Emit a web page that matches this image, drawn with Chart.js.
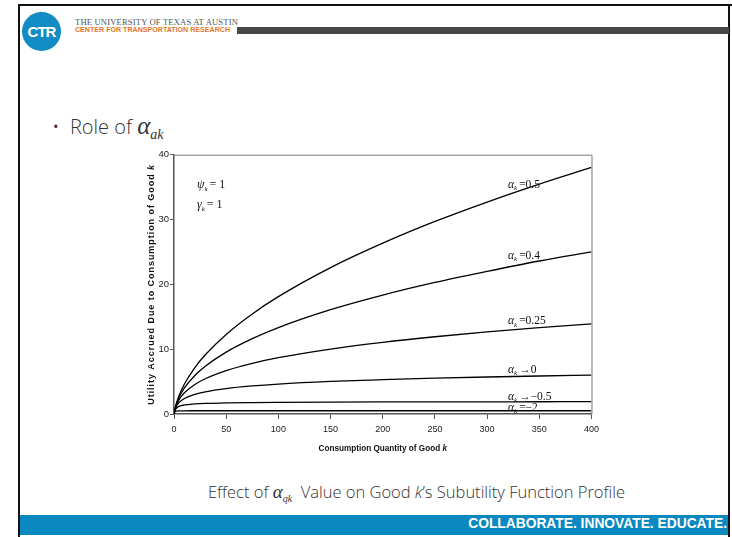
<!DOCTYPE html>
<html>
<head>
<meta charset="utf-8">
<script src="https://cdn.jsdelivr.net/npm/chart.js@4.4.1/dist/chart.umd.min.js"></script>
<style>
  html, body { margin: 0; padding: 0; background: #fff; }
  #slide { position: relative; width: 732px; height: 537px; overflow: hidden; background: #fff; font-family: "Open Sans", "Noto Sans", sans-serif; }
  .frameTop { position: absolute; left: 18px; top: 4px; width: 714px; height: 2px; background: #111; }
  .frameLeft { position: absolute; left: 18px; top: 4px; width: 2px; height: 533px; background: #111; }
  .frameRight { position: absolute; left: 728px; top: 4px; width: 2px; height: 533px; background: #111; }
  .logo { position: absolute; left: 22px; top: 12px; width: 39px; height: 39px; border-radius: 50%; background: #138bc3; color: #fff; font: bold 15px "Liberation Sans", Arial, sans-serif; line-height: 39px; text-align: center; letter-spacing: -1px; }
  .uni { position: absolute; left: 75px; top: 17px; font: 8.6px "Liberation Serif", "Times New Roman", serif; color: #555; white-space: nowrap; letter-spacing: 0.15px; }
  .ctr { position: absolute; left: 75px; top: 26px; font: bold 7.1px "Liberation Sans", Arial, sans-serif; color: #e4762c; white-space: nowrap; }
  .bar { position: absolute; left: 237px; top: 27px; width: 492px; height: 7px; background: #474747; }
  .bullet { position: absolute; left: 52px; top: 112px; font: 20px "Open Sans", sans-serif; font-weight: 300; color: #333; white-space: nowrap; }
  .greek { font-family: "Liberation Serif", "Times New Roman", serif; font-style: italic; }
  .caption { position: absolute; left: 208px; top: 480px; font: 16.5px "Open Sans", sans-serif; font-weight: 300; color: #333; white-space: nowrap; }
  .footer { position: absolute; left: 20px; top: 515px; width: 708px; height: 20px; background: #0a88c0; }
  .footer span { position: absolute; right: 1px; top: 1px; font: bold 13.8px "Liberation Sans", Arial, sans-serif; color: #fff; white-space: nowrap; }
  #chartBox { position: absolute; left: 130px; top: 148px; width: 474px; height: 312px; }
</style>
</head>
<body>
<div id="slide">
  <div class="frameTop"></div>
  <div class="frameLeft"></div>
  <div class="frameRight"></div>
  <div class="logo">CTR</div>
  <div class="uni">THE UNIVERSITY OF TEXAS AT AUSTIN</div>
  <div class="ctr">CENTER FOR TRANSPORTATION RESEARCH</div>
  <div class="bar"></div>
  <div class="bullet">•&nbsp; Role of <span class="greek" style="font-size:25px">α</span><sub class="greek" style="font-size:14px">ak</sub></div>
  <div id="chartBox"><canvas id="c"></canvas></div>
  <div class="caption">Effect of <span class="greek" style="font-size:19px">α</span><sub class="greek" style="font-size:10px">qk</sub>&nbsp; Value on Good <i>k</i>’s Subutility Function Profile</div>
  <div class="footer"><span>COLLABORATE. INNOVATE. EDUCATE.</span></div>
</div>
<script>
// Consumption quantity (x) sample points
const quantities = [0, 1, 2, 5, 10, 20, 30, 50, 75, 100, 150, 200, 250, 300, 350, 400];
// Utility values
const alpha05  = [0, 0.83, 1.46, 2.9, 4.63, 7.17, 9.14, 12.28, 15.44, 18.1, 22.58, 26.35, 29.7, 32.7, 35.47, 38.05];
const alpha04  = [0, 0.80, 1.38, 2.62, 4.02, 5.95, 7.37, 9.55, 11.63, 13.34, 16.1, 18.35, 20.3, 22.0, 23.6, 25.0];
const alpha025 = [0, 0.76, 1.26, 2.26, 3.28, 4.56, 5.44, 6.69, 7.81, 8.68, 10.02, 11.06, 11.92, 12.66, 13.31, 13.9];
const alpha0   = [0, 0.69, 1.10, 1.79, 2.40, 3.04, 3.43, 3.93, 4.33, 4.62, 5.02, 5.30, 5.53, 5.71, 5.86, 5.99];
const alphaM05 = [0, 0.59, 0.85, 1.18, 1.40, 1.56, 1.64, 1.72, 1.77, 1.80, 1.84, 1.86, 1.87, 1.88, 1.89, 1.90];
const alphaM2  = [0, 0.375, 0.444, 0.486, 0.496, 0.499, 0.5, 0.5, 0.5, 0.5, 0.5, 0.5, 0.5, 0.5, 0.5, 0.5];
const xTicks = [0, 50, 100, 150, 200, 250, 300, 350, 400];
const yTicks = [0, 10, 20, 30, 40];
const xTitle = ["Consumption Quantity of Good ", "k"];
const yTitle = ["Utility Accrued Due to Consumption of Good ", "k"];

// Curve labels
const curveLabels = [
  { op: "=", val: "0.5",  x: 320, y: 35.3 },
  { op: "=", val: "0.4",  x: 320, y: 24.4 },
  { op: "=", val: "0.25", x: 320, y: 14.3 },
  { op: "\u2192", val: "0",    x: 320, y: 6.85 },
  { op: "\u2192", val: "\u22120.5", x: 320, y: 2.6 },
  { op: "=", val: "\u22122",   x: 320, y: 0.9 }
];
const paramLabels = [
  { sym: "\u03C8", val: "1", x: 22, y: 35.3 },
  { sym: "\u03B3", val: "1", x: 22, y: 32.2 }
];

const series = [alpha05, alpha04, alpha025, alpha0, alphaM05, alphaM2];
const datasets = series.map(arr => ({
  data: quantities.map((q, i) => ({ x: q, y: arr[i] })),
  borderColor: "#000",
  borderWidth: 1.3,
  pointRadius: 0,
  cubicInterpolationMode: "monotone",
  fill: false
}));

const serif = '"Liberation Serif", "Times New Roman", serif';
const sans = '"Liberation Sans", Arial, sans-serif';

const decor = {
  id: "decor",
  afterDatasetsDraw(chart) {
    const { ctx, chartArea: a, scales } = chart;
    const xs = scales.x, ys = scales.y;
    ctx.save();
    // plot frame (top and right)
    ctx.strokeStyle = "#777";
    ctx.lineWidth = 1;
    ctx.beginPath();
    ctx.moveTo(a.left, a.top + 0.5);
    ctx.lineTo(a.right + 0.5, a.top + 0.5);
    ctx.lineTo(a.right + 0.5, a.bottom);
    ctx.stroke();

    ctx.fillStyle = "#111";
    ctx.textBaseline = "middle";
    function drawSub(sym, rest, px, py, size) {
      let x = px;
      ctx.font = "italic " + size + "px " + serif;
      ctx.fillText(sym, x, py);
      x += ctx.measureText(sym).width;
      ctx.font = "italic " + Math.round(size * 0.6) + "px " + serif;
      ctx.fillText("k", x, py + size * 0.3);
      x += ctx.measureText("k").width + 2;
      ctx.font = size + "px " + serif;
      ctx.fillText(rest, x, py);
    }
    curveLabels.forEach(l => {
      drawSub("\u03B1", l.op + l.val, xs.getPixelForValue(l.x), ys.getPixelForValue(l.y), 11.5);
    });
    paramLabels.forEach(l => {
      drawSub(l.sym, "= " + l.val, xs.getPixelForValue(l.x), ys.getPixelForValue(l.y), 12);
    });

    // axis titles with italic k
    function drawTitle(parts, spacing, size) {
      ctx.letterSpacing = spacing + "px";
      ctx.font = "bold " + size + "px " + sans;
      const w1 = ctx.measureText(parts[0]).width;
      ctx.font = "italic bold " + size + "px " + sans;
      const w2 = ctx.measureText(parts[1]).width;
      let x = -(w1 + w2) / 2;
      ctx.textAlign = "left";
      ctx.font = "bold " + size + "px " + sans;
      ctx.fillText(parts[0], x, 0);
      ctx.font = "italic bold " + size + "px " + sans;
      ctx.fillText(parts[1], x + w1, 0);
    }
    ctx.save();
    ctx.translate((a.left + a.right) / 2, a.bottom + 34);
    ctx.scale(0.86, 1);
    drawTitle(xTitle, 0, 9.5);
    ctx.restore();
    ctx.save();
    ctx.translate(a.left - 22, (a.top + a.bottom) / 2);
    ctx.rotate(-Math.PI / 2);
    drawTitle(yTitle, 0.95, 9);
    ctx.restore();
    ctx.restore();
  }
};

new Chart(document.getElementById("c"), {
  type: "line",
  data: { datasets },
  options: {
    responsive: true,
    maintainAspectRatio: false,
    animation: false,
    layout: { padding: { top: 5, right: 6, left: 0, bottom: 0 } },
    plugins: { legend: { display: false }, tooltip: { enabled: false } },
    scales: {
      x: {
        type: "linear",
        min: 0, max: 400,
        afterBuildTicks: s => { s.ticks = xTicks.map(v => ({ value: v })); },
        afterFit: s => { s.height = 46; },
        grid: { drawOnChartArea: false, drawTicks: true, tickLength: 5, color: "#555" },
        border: { color: "#555", width: 1.5 },
        ticks: { color: "#222", font: { family: '"Liberation Sans Narrow", "Liberation Sans", Arial', size: 9 }, padding: 5, maxRotation: 0 },
        title: { display: false }
      },
      y: {
        type: "linear",
        min: 0, max: 40,
        afterBuildTicks: s => { s.ticks = yTicks.map(v => ({ value: v })); },
        afterFit: s => { s.width = 44; },
        grid: { drawOnChartArea: false, drawTicks: true, tickLength: 4, color: "#555" },
        border: { color: "#555", width: 1.5 },
        ticks: { color: "#222", font: { family: '"Liberation Sans Narrow", "Liberation Sans", Arial', size: 9.5 }, padding: 1 },
        title: { display: false }
      }
    }
  },
  plugins: [decor]
});
</script>
</body>
</html>
